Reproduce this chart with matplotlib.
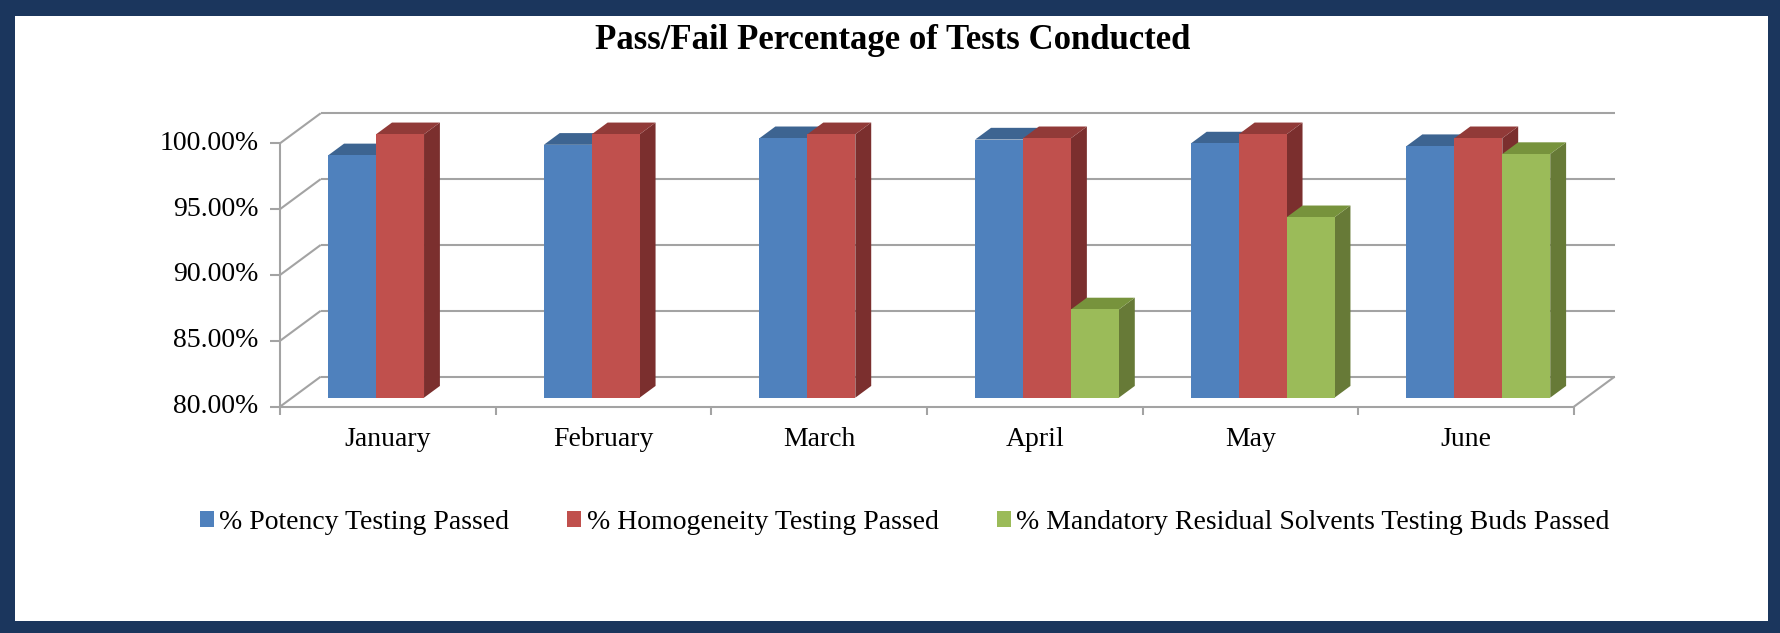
import numpy as np
import matplotlib.pyplot as plt
from matplotlib.patches import Polygon, Rectangle

months = ["January", "February", "March", "April", "May", "June"]
series_names = ["% Potency Testing Passed", "% Homogeneity Testing Passed",
                "% Mandatory Residual Solvents Testing Buds Passed"]
potency = [98.4, 99.2, 99.7, 99.6, 99.3, 99.1]
homogeneity = [100.0, 100.0, 100.0, 99.7, 100.0, 99.7]
solvents = [np.nan, np.nan, np.nan, 86.7, 93.7, 98.5]
y_ticks = [80, 85, 90, 95, 100]

front_cols = ["#4f81bd", "#c0504d", "#9bbb59"]
top_cols = ["#3d6491", "#913a38", "#77933c"]
side_cols = ["#3a5f8a", "#7b2f2e", "#677a37"]

# fake 3D: oblique offset of the floor depth, in data units
DX, DY = 0.1887, 2.28
D0, D1 = 0.30, 0.69   # bar front / back as fraction of the depth
W = 2 / 9
BASE = 80

plt.rcParams['font.family'] = ['Liberation Serif', 'DejaVu Serif']
fig = plt.figure(figsize=(17.81, 6.33), dpi=100)
fig.patch.set_facecolor("#1b365d")
fig.patches.append(Rectangle((15 / 1781, 12 / 633), 1753 / 1781, 605 / 633,
                             transform=fig.transFigure, facecolor="white",
                             edgecolor="none", zorder=-5))

ax = fig.add_axes([172.2 / 1781, 200 / 633, 1509.6 / 1781, 342.4 / 633])
ax.set_xlim(-0.5, 6.5)
ax.set_ylim(78, 104)
ax.axis("off")

# walls and axes
grid = dict(color="#a3a3a3", lw=1.5, solid_capstyle="butt", zorder=1, clip_on=False)
n = len(months)
for v in y_ticks:
    ax.plot([0, DX], [v, v + DY], **grid)
    ax.plot([DX, n + DX], [v + DY, v + DY], **grid)
    ax.plot([-0.046, 0], [v, v], **grid)
    ax.text(-0.10, v, f"{v:.2f}%", ha="right", va="center", fontsize=20)
ax.plot([0, 0], [BASE, 100], **grid)
ax.plot([0, n], [BASE, BASE], **grid)
ax.plot([n, n + DX], [BASE, BASE + DY], **grid)
for i in range(n + 1):
    ax.plot([i, i], [BASE, BASE - 0.6], **grid)
for i, m in enumerate(months):
    ax.text(i + 0.5, BASE - 2.5, m, ha="center", va="center", fontsize=20)

# bars
x = np.arange(n)
handles = []
for s, vals in enumerate([potency, homogeneity, solvents]):
    vals = np.array(vals)
    lefts = x + 0.5 - 1.5 * W + s * W + D0 * DX
    bars = ax.bar(lefts, vals - BASE, bottom=BASE + D0 * DY, width=W,
                  align="edge", color=front_cols[s], zorder=3 + 2 * s,
                  label=series_names[s])
    handles.append(bars)
    dx, dy = (D1 - D0) * DX, (D1 - D0) * DY
    for r in bars.patches:
        h = r.get_height()
        if np.isnan(h):
            continue
        x0, y0, w = r.get_x(), r.get_y(), r.get_width()
        y1 = y0 + h
        side = [(x0 + w, y0), (x0 + w, y1), (x0 + w + dx, y1 + dy), (x0 + w + dx, y0 + dy)]
        top = [(x0, y1), (x0 + w, y1), (x0 + w + dx, y1 + dy), (x0 + dx, y1 + dy)]
        ax.add_patch(Polygon(side, closed=True, facecolor=side_cols[s], edgecolor="none", zorder=2 + 2 * s))
        ax.add_patch(Polygon(top, closed=True, facecolor=top_cols[s], edgecolor="none", zorder=2 + 2 * s))

fig.text(0.5014, 0.936, "Pass/Fail Percentage of Tests Conducted",
         ha="center", va="center", fontsize=25, fontweight="bold")

fig.legend(handles, series_names, ncol=3, loc="center", bbox_to_anchor=(0.508, 0.175),
           frameon=False, fontsize=20, handlelength=0.5, handleheight=0.5,
           handletextpad=0.2, columnspacing=2.1)

fig.savefig("out.png", dpi=100)
